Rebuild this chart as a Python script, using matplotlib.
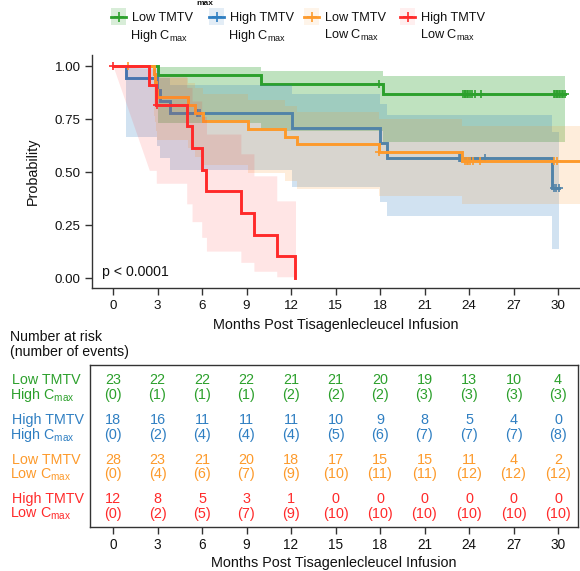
import numpy as np
import matplotlib
matplotlib.use("Agg")
import matplotlib.pyplot as plt
from matplotlib.patches import Rectangle
from matplotlib.lines import Line2D

plt.rcParams["font.family"] = ["Liberation Sans", "DejaVu Sans"]
plt.rcParams["mathtext.default"] = "regular"

# ---------------- Kaplan-Meier estimates (step knots) ----------------
# Low TMTV / High Cmax
green_t = [0.0, 3.0, 9.95, 18.2]
green_s = [1.0, 0.957, 0.913, 0.867]
green_lo = [1.0, 0.729, 0.695, 0.643]
green_hi = [1.0, 0.994, 0.978, 0.955]
green_end = 30.45
green_cens = [17.9, 23.6, 23.7, 23.75, 23.85, 23.95, 24.05, 24.2, 24.4, 24.8,
              29.75, 29.8, 29.9, 29.95, 30.05, 30.15, 30.25, 30.35, 30.45]

# High TMTV / High Cmax
blue_t = [0.0, 0.86, 2.97, 3.15, 3.85, 12.1, 17.97, 18.45, 29.6]
blue_s = [1.0, 0.944, 0.889, 0.833, 0.778, 0.707, 0.636, 0.566, 0.424]
blue_lo = [1.0, 0.666, 0.624, 0.568, 0.511, 0.429, 0.357, 0.293, 0.139]
blue_hi = [1.0, 0.992, 0.971, 0.943, 0.910, 0.868, 0.820, 0.768, 0.689]
blue_end = 30.05
blue_cens = [5.65, 5.75, 5.85, 23.35, 23.4, 23.45, 25.1, 29.7, 29.85, 30.05]

# Low TMTV / Low Cmax
orange_t = [0.0, 2.78, 2.85, 2.92, 2.98, 5.08, 5.5, 6.09, 9.12, 11.6, 12.4, 17.9, 23.5]
orange_s = [1.0, 0.963, 0.926, 0.889, 0.852, 0.815, 0.778, 0.741, 0.704, 0.667,
            0.630, 0.593, 0.553]
orange_lo = [1.0, 0.765, 0.735, 0.694, 0.652, 0.611, 0.571, 0.532, 0.494, 0.457,
             0.421, 0.386, 0.349]
orange_hi = [1.0, 0.995, 0.981, 0.963, 0.942, 0.918, 0.894, 0.867, 0.839, 0.811,
             0.781, 0.750, 0.717]
orange_end = 32.0
orange_cens = [1.0, 17.95, 23.75, 23.85, 23.95, 24.1, 24.3, 24.75, 29.7, 29.9]

# High TMTV / Low Cmax
red_t = [0.0, 2.45, 2.92, 4.97, 5.33, 5.98, 6.3, 8.62, 9.5, 11.04, 12.3]
red_s = [1.0, 0.909, 0.818, 0.716, 0.614, 0.511, 0.409, 0.307, 0.205, 0.102, 0.0]
red_lo = [1.0, 0.508, 0.447, 0.350, 0.266, 0.192, 0.127, 0.074, 0.032, 0.006, np.nan]
red_hi = [1.0, 0.987, 0.951, 0.899, 0.835, 0.762, 0.679, 0.586, 0.482, 0.364, np.nan]
red_end = 12.3
red_cens = [0.0, 2.95]

# ---------------- risk table ----------------
risk_times = [0, 3, 6, 9, 12, 15, 18, 21, 24, 27, 30]
green_risk = [23, 22, 22, 22, 21, 21, 20, 19, 13, 10, 4]
green_events = [0, 1, 1, 1, 2, 2, 2, 3, 3, 3, 3]
blue_risk = [18, 16, 11, 11, 11, 10, 9, 8, 5, 4, 0]
blue_events = [0, 2, 4, 4, 4, 5, 6, 7, 7, 7, 8]
orange_risk = [28, 23, 21, 20, 18, 17, 15, 15, 11, 4, 2]
orange_events = [0, 4, 6, 7, 9, 10, 11, 11, 12, 12, 12]
red_risk = [12, 8, 5, 3, 1, 0, 0, 0, 0, 0, 0]
red_events = [0, 2, 5, 7, 9, 10, 10, 10, 10, 10, 10]

group_line1 = ["Low TMTV", "High TMTV", "Low TMTV", "High TMTV"]
group_line2 = ["High C$_{max}$", "High C$_{max}$", "Low C$_{max}$", "Low C$_{max}$"]
y_ticks = [0.0, 0.25, 0.5, 0.75, 1.0]
p_text = "p < 0.0001"

colors = ["#2ca02c", "#2f7fc2", "#fd9a2b", "#ff2a2a"]
band_alpha = [0.30, 0.22, 0.17, 0.12]

groups = [
    dict(t=green_t, s=green_s, lo=green_lo, hi=green_hi, end=green_end, cens=green_cens,
         risk=green_risk, ev=green_events, ramp=False),
    dict(t=blue_t, s=blue_s, lo=blue_lo, hi=blue_hi, end=blue_end, cens=blue_cens,
         risk=blue_risk, ev=blue_events, ramp=False),
    dict(t=orange_t, s=orange_s, lo=orange_lo, hi=orange_hi, end=orange_end, cens=orange_cens,
         risk=orange_risk, ev=orange_events, ramp=False),
    dict(t=red_t, s=red_s, lo=red_lo, hi=red_hi, end=red_end, cens=red_cens,
         risk=red_risk, ev=red_events, ramp=True),
]


def band_xy(t, lo, hi, end, ramp):
    valid = [i for i in range(len(t)) if not np.isnan(lo[i])]
    tv = [t[i] for i in valid]
    lv = [lo[i] for i in valid]
    hv = [hi[i] for i in valid]
    band_end = end if len(valid) == len(t) else t[len(valid)]
    xs, l, h = [], [], []
    start = 0
    if ramp:
        xs.append(tv[0]); l.append(lv[0]); h.append(hv[0])
        start = 1
    for i in range(start, len(tv)):
        x1 = tv[i + 1] if i + 1 < len(tv) else band_end
        xs += [tv[i], x1]
        l += [lv[i], lv[i]]
        h += [hv[i], hv[i]]
    return xs, l, h


W, H = 580, 571
fig = plt.figure(figsize=(W / 100, H / 100), dpi=100)

PX_PER_MONTH = 445 / 30.0
spine_col = "#333333"

# ---------------- survival panel ----------------
ax = fig.add_axes([91.7 / W, 1 - 288 / H, (580 - 91.7) / W, (288 - 55.4) / H])
ax.set_xlim(-(113 - 91.7) / PX_PER_MONTH, (580 - 113) / PX_PER_MONTH)
ax.set_ylim(-0.047, 1.05)

for k, g in enumerate(groups):
    c = colors[k]
    xs, l, h = band_xy(g["t"], g["lo"], g["hi"], g["end"], g["ramp"])
    ax.fill_between(xs, l, h, color=c, alpha=band_alpha[k], linewidth=0, zorder=2 + 2 * k)
    lx = list(g["t"]) + [g["end"]]
    ly = list(g["s"]) + [g["s"][-1]]
    ax.plot(lx, ly, drawstyle="steps-post", color=c, lw=2.1, zorder=3 + 2 * k,
            solid_joinstyle="miter")
    idx = np.searchsorted(g["t"], g["cens"], side="right") - 1
    cy = [g["s"][i] for i in idx]
    ax.plot(g["cens"], cy, ls="none", marker="+", ms=6, mew=1.2, color=c, zorder=3 + 2 * k)

ax.text(0.021, 0.053, p_text, transform=ax.transAxes, fontsize=10.2, va="baseline",
        ha="left", color="#111111")

ax.set_xticks(risk_times)
ax.set_yticks(y_ticks)
ax.set_yticklabels([f"{v:.2f}" for v in y_ticks])
for side in ("top", "right"):
    ax.spines[side].set_visible(False)
for side in ("left", "bottom"):
    ax.spines[side].set_color(spine_col)
    ax.spines[side].set_linewidth(1.0)
ax.tick_params(axis="both", direction="out", length=4.7, width=1.0, color=spine_col,
               labelsize=9.6, labelcolor="#111111")
ax.tick_params(axis="x", pad=4.2)
ax.tick_params(axis="y", pad=3.2)
ax.set_xlabel("Months Post Tisagenlecleucel Infusion", fontsize=10.4, color="#111111")
ax.xaxis.label.set_va("baseline")
ax.xaxis.set_label_coords(0.5, (288 - 329.5) / 232.6)
ax.set_ylabel("Probability", fontsize=10.4, color="#111111")
ax.yaxis.label.set_va("center")
ax.yaxis.set_label_coords((33 - 91.7) / 488.3, 0.5)

# ---------------- risk table ----------------
tab = fig.add_axes([90 / W, 1 - 527 / H, 488 / W, 162 / H])
tab.set_xlim(-(113 - 90) / PX_PER_MONTH, (578 - 113) / PX_PER_MONTH)
tab.set_ylim(162, 0)
for side in tab.spines.values():
    side.set_color(spine_col)
    side.set_linewidth(1.0)
tab.set_yticks([])
tab.set_xticks(risk_times)
tab.tick_params(axis="x", direction="out", length=5.0, width=1.0, color=spine_col,
                labelsize=9.8, pad=2.6, labelcolor="#111111")
tab.set_xlabel("Months Post Tisagenlecleucel Infusion", fontsize=10.4, color="#111111")
tab.xaxis.label.set_va("baseline")
tab.xaxis.set_label_coords(0.5, (527 - 567.3) / 162)

ROW_BASE = 384.5 - 365
ROW_STEP = 39.6
for k, g in enumerate(groups):
    yb = ROW_BASE + ROW_STEP * k
    for t, n, e in zip(risk_times, g["risk"], g["ev"]):
        tab.text(t, yb, str(n), ha="center", va="baseline", fontsize=10.4, color=colors[k])
        tab.text(t, yb + 14.5, f"({e})", ha="center", va="baseline", fontsize=10.4,
                 color=colors[k])

# ---------------- figure-level annotations (pixel coordinates) ----------------
lax = fig.add_axes([0, 0, 1, 1], zorder=10)
lax.set_xlim(0, W)
lax.set_ylim(H, 0)
lax.axis("off")

for k in range(4):
    yb = 384.5 + ROW_STEP * k
    lax.text(12, yb, group_line1[k], fontsize=10.3, color=colors[k], va="baseline", ha="left")
    lax.text(10.5, yb + 14.5, group_line2[k], fontsize=10.3, color=colors[k], va="baseline",
             ha="left")

lax.text(10, 340.7, "Number at risk", fontsize=10.2, va="baseline", ha="left", color="#111111")
lax.text(10, 356.2, "(number of events)", fontsize=10.2, va="baseline", ha="left",
         color="#111111")

# legend
leg_x = [111, 209, 304.3, 400]
for k in range(4):
    x0 = leg_x[k]
    lax.add_patch(Rectangle((x0, 8.3), 15, 16.7, facecolor=colors[k], alpha=band_alpha[k] * 0.6,
                            edgecolor="none"))
    lax.add_line(Line2D([x0, x0 + 15], [16.5, 16.5], color=colors[k], lw=2.0))
    lax.plot([x0 + 7.5], [16.5], marker="+", ms=7, mew=1.2, color=colors[k])
    lax.text(x0 + 21, 20.7, group_line1[k], fontsize=9.2, va="baseline", ha="left",
             color="#111111")
    lax.text(x0 + 19.5, 39.3, group_line2[k], fontsize=9.2, va="baseline", ha="left",
             color="#111111")

lax.text(205, 5.2, "max", fontsize=6, fontweight="bold", ha="center", va="baseline",
         color="#111111")

fig.savefig("out.png", dpi=100)
